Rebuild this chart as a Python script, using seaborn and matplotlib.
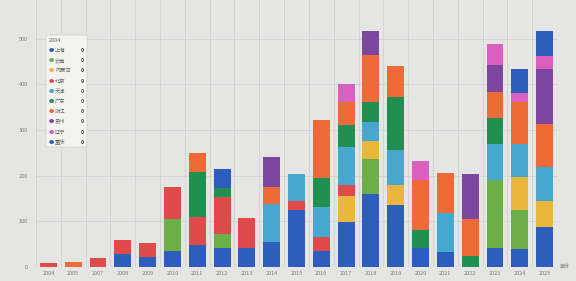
import matplotlib
matplotlib.use("Agg")
import matplotlib.pyplot as plt
from matplotlib.patches import FancyBboxPatch
import seaborn as sns
import pandas as pd
import numpy as np

years = ['2004', '2005', '2007', '2008', '2009', '2010', '2011', '2012', '2013', '2014',
         '2015', '2016', '2017', '2018', '2019', '2020', '2021', '2022', '2023', '2024', '2025']

regions = ['上海', '云南', '内蒙古', '北京', '天津', '广东', '浙江', '贵州', '辽宁', '重庆']

shanghai = [0, 0, 0, 28, 21, 36, 48, 42, 41, 54, 124, 35, 98, 159, 135, 41, 33, 0, 42, 39, 88]
yunnan = [0, 0, 0, 0, 0, 69, 0, 30, 0, 0, 0, 0, 0, 77, 0, 0, 0, 0, 148, 85, 0]
neimenggu = [0, 0, 0, 0, 0, 0, 0, 0, 0, 0, 0, 0, 57, 40, 45, 0, 0, 0, 0, 73, 56]
beijing = [9, 0, 19, 32, 32, 71, 62, 81, 66, 0, 20, 30, 25, 0, 0, 0, 0, 0, 0, 0, 0]
tianjin = [0, 0, 0, 0, 0, 0, 0, 0, 0, 85, 60, 66, 84, 42, 76, 0, 86, 0, 79, 73, 75]
guangdong = [0, 0, 0, 0, 0, 0, 98, 21, 0, 0, 0, 64, 48, 44, 116, 39, 0, 24, 57, 0, 0]
zhejiang = [0, 10, 0, 0, 0, 0, 41, 0, 0, 36, 0, 128, 50, 103, 68, 111, 86, 82, 58, 91, 95]
guizhou = [0, 0, 0, 0, 0, 0, 0, 0, 0, 67, 0, 0, 0, 51, 0, 0, 0, 98, 58, 0, 120]
liaoning = [0, 0, 0, 0, 0, 0, 0, 0, 0, 0, 0, 0, 38, 0, 0, 41, 0, 0, 46, 21, 28]
chongqing = [0, 0, 0, 0, 0, 0, 0, 41, 0, 0, 0, 0, 0, 0, 0, 0, 0, 0, 0, 52, 55]

series = [shanghai, yunnan, neimenggu, beijing, tianjin, guangdong, zhejiang, guizhou, liaoning, chongqing]
colors = ['#2d5dbd', '#6cae47', '#e9b73c', '#df4b4b', '#46a7cf', '#209050', '#ee6a36', '#7d47a0', '#d960be', '#2d5dbd']

tooltip_year = '2004'
y_ticks = [0, 100, 200, 300, 400, 500]

W, H = 576, 281
fig = plt.figure(figsize=(W / 100, H / 100), dpi=100)
sns.set_style("white")
plt.rcParams['font.family'] = ['Noto Sans CJK SC', 'DejaVu Sans']
bg = '#e5e5e3'
fig.patch.set_facecolor(bg)

ax = fig.add_axes([36 / W, 1 - 267 / H, (557 - 36) / W, 267 / H])
ax.set_facecolor(bg)

df = pd.DataFrame({'year': years})
cum = np.zeros(len(years))
cums = []
for s in series:
    cum = cum + np.array(s)
    cums.append(cum.copy())
df_c = pd.DataFrame({'year': years})
for i in range(len(series) - 1, -1, -1):
    df_c['v'] = cums[i]
    sns.barplot(data=df_c, x='year', y='v', order=years, color=colors[i], saturation=1,
                width=0.68, errorbar=None, ax=ax, linewidth=0, zorder=3)

ax.set_ylim(0, 585)
ax.set_xlim(-0.5, len(years) - 0.5)
ax.set_yticks(y_ticks)
ax.set_yticklabels([str(t) for t in y_ticks])
ax.set_xlabel('')
ax.set_ylabel('')
for t in y_ticks[1:]:
    ax.axhline(t, color='#d3d3d3', lw=0.6, zorder=1)
for b in np.arange(-0.5, len(years), 1.0):
    ax.axvline(b, color='#d0d0d0', lw=0.6, zorder=1)
ax.axhline(0, color='#9a9a9a', lw=0.7, zorder=4)
for sp in ax.spines.values():
    sp.set_visible(False)
ax.tick_params(axis='both', length=0, labelsize=4, colors='#7a7a7a', pad=3)
ax.tick_params(axis='y', pad=6)
fig.text(560 / W, 1 - 267 / H, '年份', fontsize=3.5, color='#7a7a7a', va='center', ha='left')

# tooltip box
bx0, by0, bx1, by1 = 46, 35, 87, 147
box = FancyBboxPatch((bx0 / W, 1 - by1 / H), (bx1 - bx0) / W, (by1 - by0) / H,
                     boxstyle='round,pad=0.0,rounding_size=0.004', transform=fig.transFigure,
                     facecolor='#f3f3f1', edgecolor='#cfcfcf', lw=0.5, zorder=10)
fig.patches.append(box)
fig.text(49 / W, 1 - 41 / H, tooltip_year, fontsize=4, color='#666666', va='center', ha='left', zorder=11)
vals = [s[0] for s in series]
for k, (name, c, v) in enumerate(zip(regions, colors, vals)):
    yy = 1 - (50.5 + k * 10.2) / H
    fig.text(51 / W, yy, '●', fontsize=3.8, color=c, va='center', ha='center', zorder=11)
    fig.text(55 / W, yy, name, fontsize=3.8, color='#666666', va='center', ha='left', zorder=11)
    fig.text(84 / W, yy, str(v), fontsize=3.8, color='#444444', va='center', ha='right',
             fontweight='bold', zorder=11)

fig.savefig('out.png', dpi=100, facecolor=bg)
